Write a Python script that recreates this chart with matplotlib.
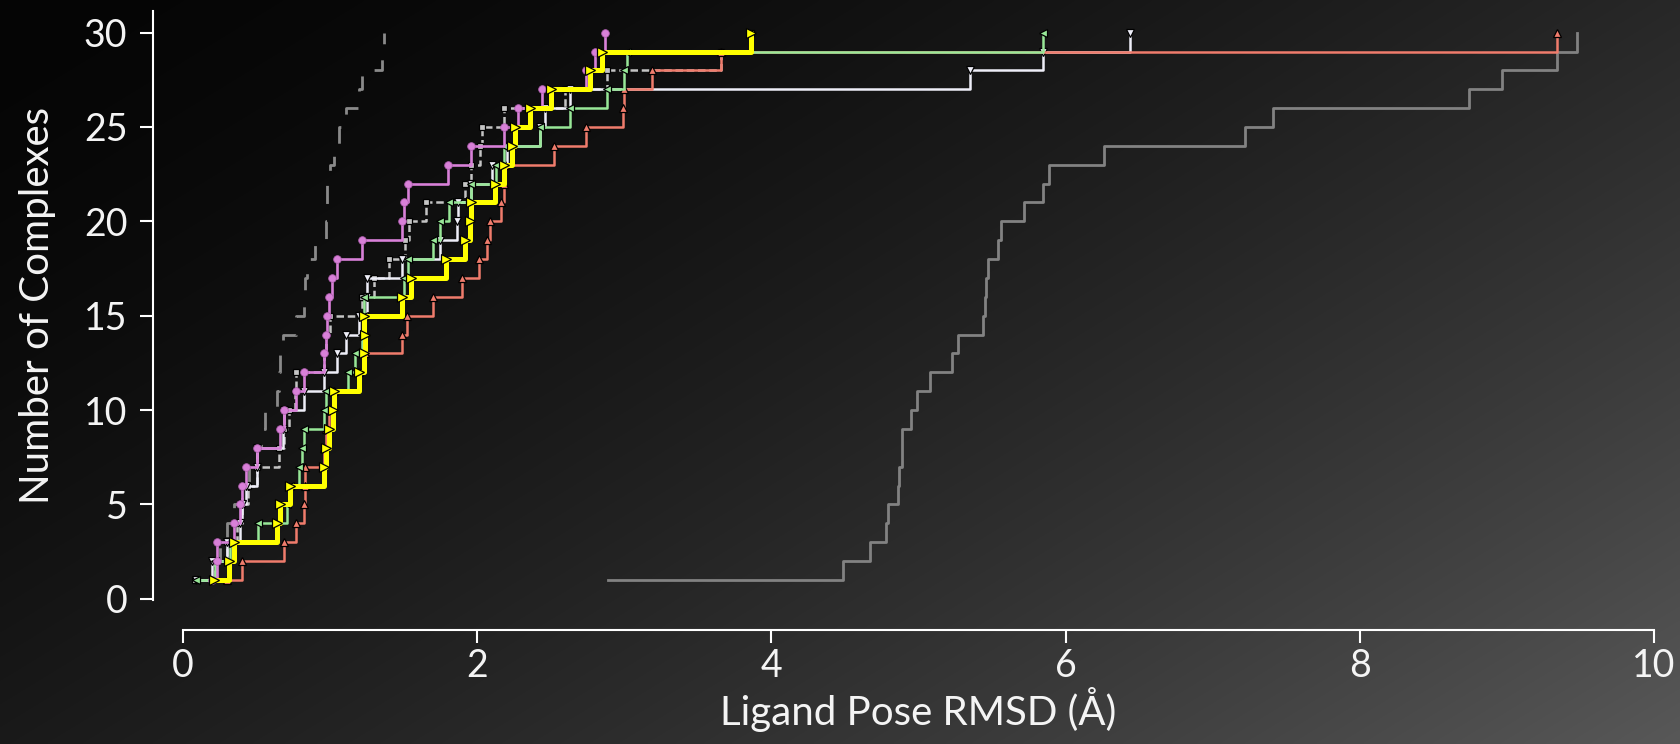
import matplotlib
matplotlib.use("Agg")
import matplotlib.pyplot as plt
import numpy as np

# cumulative count of complexes (1..30) against sorted ligand RMSD per method
counts = list(range(1, 31))

rmsd_gray_dashed = [0.10, 0.20, 0.25, 0.30, 0.35, 0.40, 0.45, 0.50, 0.53, 0.56,
                    0.64, 0.65, 0.66, 0.68, 0.77, 0.82, 0.83, 0.84, 0.90, 0.97,
                    0.98, 0.98, 1.00, 1.03, 1.06, 1.11, 1.20, 1.22, 1.35, 1.37]
rmsd_silver = [0.08, 0.22, 0.30, 0.37, 0.40, 0.44, 0.50, 0.65, 0.69, 0.72,
               0.76, 0.77, 0.96, 0.97, 1.00, 1.22, 1.30, 1.40, 1.51, 1.54,
               1.65, 1.92, 1.96, 2.02, 2.03, 2.18, 2.60, 2.88, 3.66, 3.86]
rmsd_white = [0.09, 0.20, 0.30, 0.39, 0.40, 0.43, 0.50, 0.50, 0.68, 0.69,
              0.82, 0.96, 1.05, 1.11, 1.20, 1.25, 1.25, 1.49, 1.75, 1.86,
              1.87, 1.96, 2.10, 2.20, 2.43, 2.46, 2.63, 5.35, 5.85, 6.44]
rmsd_salmon = [0.30, 0.40, 0.69, 0.77, 0.82, 0.83, 0.83, 0.96, 0.97, 0.99,
               1.03, 1.20, 1.24, 1.49, 1.52, 1.70, 1.90, 2.01, 2.07, 2.09,
               2.16, 2.18, 2.19, 2.52, 2.74, 2.99, 3.00, 3.19, 3.66, 9.34]
rmsd_green = [0.09, 0.22, 0.32, 0.51, 0.71, 0.73, 0.79, 0.81, 0.82, 0.96,
              0.97, 1.12, 1.17, 1.22, 1.23, 1.23, 1.50, 1.53, 1.70, 1.75,
              1.81, 1.96, 2.13, 2.18, 2.43, 2.63, 2.88, 3.00, 3.02, 5.85]
rmsd_orchid = [0.20, 0.23, 0.23, 0.35, 0.39, 0.40, 0.43, 0.50, 0.66, 0.69,
               0.77, 0.82, 0.96, 0.97, 0.98, 0.99, 1.01, 1.05, 1.22, 1.49,
               1.50, 1.53, 1.80, 1.96, 2.18, 2.28, 2.44, 2.74, 2.80, 2.87]
rmsd_yellow = [0.21, 0.31, 0.35, 0.64, 0.66, 0.73, 0.96, 0.97, 0.99, 1.02,
               1.03, 1.20, 1.23, 1.24, 1.23, 1.49, 1.55, 1.79, 1.92, 1.95,
               1.96, 2.12, 2.18, 2.24, 2.26, 2.36, 2.50, 2.77, 2.85, 3.86]
rmsd_gray_solid = [2.89, 4.49, 4.67, 4.78, 4.79, 4.86, 4.87, 4.89, 4.89, 4.95,
                   4.99, 5.08, 5.23, 5.27, 5.44, 5.45, 5.46, 5.47, 5.54, 5.56,
                   5.72, 5.85, 5.89, 6.26, 7.22, 7.41, 8.74, 8.97, 9.34, 9.48]

x_ticks = [0, 2, 4, 6, 8, 10]
y_ticks = [0, 5, 10, 15, 20, 25, 30]

plt.rcParams['font.family'] = ['Lato', 'DejaVu Sans']

fig = plt.figure(figsize=(16.8, 7.44), dpi=100)

# dark diagonal gradient background, lighter towards the bottom right
bg = fig.add_axes([0, 0, 1, 1], zorder=-10)
u = np.linspace(0, 1, 840)[None, :]
v = np.linspace(0, 1, 372)[:, None]
t = 0.58 * u + 0.42 * v
shade = (5 + 83 * t ** 1.6) / 255.0
bg.imshow(np.dstack([shade, shade, shade]), aspect='auto', extent=[0, 1, 0, 1],
          interpolation='bilinear')
bg.set_axis_off()

ax = fig.add_axes([0.1089, 0.194, 0.8756, 0.7913])
ax.set_facecolor('none')

ax.step(rmsd_gray_solid, counts, where='post', color='#828282', lw=2.0, zorder=2)
ax.step(rmsd_gray_dashed, counts, where='post', color='#8a8a8a', lw=2.0,
        dashes=(6.5, 6.5), zorder=2)
ax.step(rmsd_silver, counts, where='post', color='#c4c4c4', lw=1.8, dashes=(3, 1.5),
        marker='s', ms=5, mec='black', mew=0.9, zorder=3)
ax.step(rmsd_white, counts, where='post', color='#eeeef8', lw=1.8,
        marker='v', ms=6, mec='black', mew=0.9, zorder=3)
ax.step(rmsd_salmon, counts, where='post', color='#f07c6c', lw=1.8,
        marker='^', ms=6, mec='black', mew=0.9, zorder=4)
ax.step(rmsd_green, counts, where='post', color='#98e898', lw=1.8,
        marker='<', ms=6, mec='black', mew=0.9, zorder=5)
ax.step(rmsd_orchid, counts, where='post', color='#d880d8', lw=1.9,
        marker='o', ms=5.5, mec='#b060b0', mew=0.6, zorder=6)
ax.step(rmsd_yellow, counts, where='post', color='#ffff00', lw=3.6,
        marker='>', ms=6.5, mec='black', mew=0.9, zorder=7)

ax.set_xlim(0, 10)
ax.set_ylim(-0.05, 31.15)
ax.set_xticks(x_ticks)
ax.set_yticks(y_ticks)

for side in ['top', 'right']:
    ax.spines[side].set_visible(False)
ax.spines['left'].set_position(('outward', 21.5))
ax.spines['bottom'].set_position(('outward', 21.5))
for side in ['left', 'bottom']:
    ax.spines[side].set_color('white')
    ax.spines[side].set_linewidth(1.5)

ax.tick_params(colors='white', labelcolor='#f4f4f4', width=1.5, length=9.5,
               labelsize=27)
ax.tick_params(axis='x', pad=4)
ax.tick_params(axis='y', pad=9)

ax.set_xlabel('Ligand Pose RMSD (Å)', color='#f4f4f4', fontsize=29, labelpad=2)
ax.set_ylabel('Number of Complexes', color='#f4f4f4', fontsize=29, labelpad=20)

fig.savefig('out.png', dpi=100)
